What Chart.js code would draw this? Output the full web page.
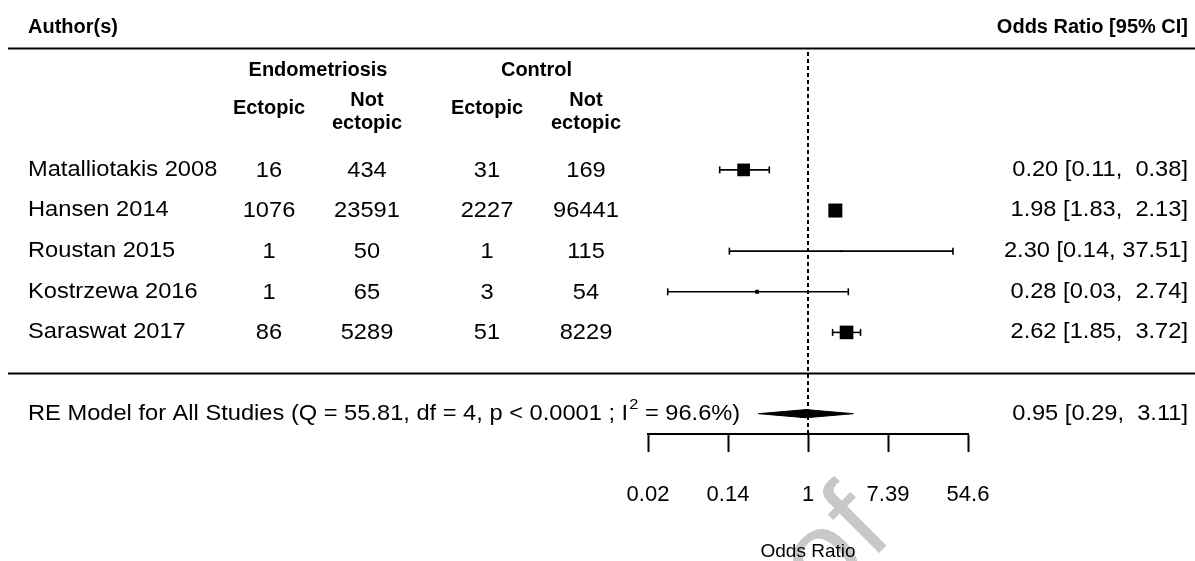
<!DOCTYPE html>
<html>
<head>
<meta charset="utf-8">
<script src="https://cdn.jsdelivr.net/npm/chart.js@4.4.0/dist/chart.umd.min.js"></script>
<style>
  html, body { margin: 0; padding: 0; background: #fff; }
  #wrap { width: 1195px; height: 561px; }
</style>
</head>
<body>
<div id="wrap"><canvas id="forest" width="1195" height="561"></canvas></div>
<script>
// ==========================
// Data
// ==========================
const studies = ['Matalliotakis 2008', 'Hansen 2014', 'Roustan 2015', 'Kostrzewa 2016', 'Saraswat 2017'];
const endoEctopic = [16, 1076, 1, 1, 86];
const endoNotEctopic = [434, 23591, 50, 65, 5289];
const ctrlEctopic = [31, 2227, 1, 3, 51];
const ctrlNotEctopic = [169, 96441, 115, 54, 8229];
const oddsRatio = [0.20, 1.98, 2.30, 0.28, 2.62];
const ciLower = [0.11, 1.83, 0.14, 0.03, 1.85];
const ciUpper = [0.38, 2.13, 37.51, 2.74, 3.72];
const weights = [24.4, 26.1, 10.7, 13.2, 25.6];   // RE weights (%), estimated from square sizes
const summaryOR = 0.95;
const summaryLower = 0.29;
const summaryUpper = 3.11;
const summaryLabel = ['RE Model for All Studies (Q = 55.81, df = 4, p < 0.0001 ; I', '2', ' = 96.6%)'];
const tickLogOdds = [-4, -2, 0, 2, 4];
const tickLabels = ['0.02', '0.14', '1', '7.39', '54.6'];

// ==========================
// Layout helpers
// ==========================
const FONT = "'Liberation Sans', Arial, sans-serif";
const k = studies.length;
const rows = studies.map((s, i) => k - i);      // 5 .. 1
const summaryRow = -1;
const colAuthorX = 28;
const colCenters = [269, 367, 487, 586];
const colRightX = 1188;
const stretch = 1.1;

const wMin = Math.min(...weights), wMax = Math.max(...weights);
const squareSide = weights.map(w => 2 + (w - wMin) / (wMax - wMin) * 12);

function fmtCI(lo, hi, est) {
    const loW = Math.max(...ciLower.concat(summaryLower).map(v => v.toFixed(2).length));
    const hiW = Math.max(...ciUpper.concat(summaryUpper).map(v => v.toFixed(2).length));
    return `${est.toFixed(2)} [${lo.toFixed(2).padStart(loW)}, ${hi.toFixed(2).padStart(hiW)}]`;
}

function put(ctx, text, x, y, align, font, sx) {
    ctx.save();
    ctx.font = font;
    ctx.fillStyle = '#000';
    ctx.textAlign = align;
    ctx.textBaseline = 'middle';
    ctx.translate(x, y);
    ctx.scale(sx, 1);
    ctx.fillText(text, 0, 0);
    ctx.restore();
}

// ==========================
// Table text, rules, watermark
// ==========================
const tablePlugin = {
    id: 'forestTable',
    beforeDraw(chart) {
        // faint watermark behind everything
        const ctx = chart.ctx;
        ctx.save();
        ctx.fillStyle = '#c8c8c8';
        ctx.font = `120px ${FONT}`;
        ctx.textAlign = 'right';
        ctx.textBaseline = 'alphabetic';
        ctx.translate(895, 537);
        ctx.rotate(-Math.PI / 4);
        ctx.fillText('Proof', 0, 0);
        ctx.restore();
    },
    beforeDatasetsDraw(chart) {
        const ctx = chart.ctx;
        const ys = chart.scales.y;
        ctx.save();
        ctx.strokeStyle = '#000';
        ctx.lineWidth = 2;
        [8, 0].forEach(r => {
            const py = Math.round(ys.getPixelForValue(r)) + 0.5;
            ctx.beginPath();
            ctx.moveTo(8, py);
            ctx.lineTo(chart.width, py);
            ctx.stroke();
        });
        ctx.restore();
    },
    afterDraw(chart) {
        const ctx = chart.ctx;
        const ys = chart.scales.y;
        const bold = `bold 20px ${FONT}`;
        const reg = `21.5px ${FONT}`;

        // headers
        put(ctx, 'Author(s)', colAuthorX, ys.getPixelForValue(8.5), 'left', bold, 1);
        put(ctx, 'Odds Ratio [95% CI]', colRightX, ys.getPixelForValue(8.5), 'right', bold, 1);
        put(ctx, 'Endometriosis', (colCenters[0] + colCenters[1]) / 2, ys.getPixelForValue(7.45), 'center', bold, 1);
        put(ctx, 'Control', (colCenters[2] + colCenters[3]) / 2, ys.getPixelForValue(7.45), 'center', bold, 1);
        [0, 2].forEach(c => {
            put(ctx, 'Ectopic', colCenters[c], ys.getPixelForValue(6.5), 'center', bold, 1);
            put(ctx, 'Not', colCenters[c + 1], ys.getPixelForValue(6.72), 'center', bold, 1);
            put(ctx, 'ectopic', colCenters[c + 1], ys.getPixelForValue(6.13), 'center', bold, 1);
        });

        // study rows
        studies.forEach((s, i) => {
            const py = ys.getPixelForValue(rows[i]);
            put(ctx, s, colAuthorX, py, 'left', reg, stretch);
            [endoEctopic, endoNotEctopic, ctrlEctopic, ctrlNotEctopic].forEach((arr, c) => {
                put(ctx, String(arr[i]), colCenters[c], py + 1, 'center', reg, stretch);
            });
            put(ctx, fmtCI(ciLower[i], ciUpper[i], oddsRatio[i]), colRightX, py, 'right', reg, stretch);
        });

        // summary row with superscript
        const sy = ys.getPixelForValue(summaryRow);
        ctx.save();
        ctx.font = reg;
        const w1 = ctx.measureText(summaryLabel[0]).width * stretch;
        ctx.font = `15px ${FONT}`;
        const w2 = ctx.measureText(summaryLabel[1]).width * stretch;
        ctx.restore();
        put(ctx, summaryLabel[0], colAuthorX, sy, 'left', reg, stretch);
        put(ctx, summaryLabel[1], colAuthorX + w1 + 1, sy - 9, 'left', `15px ${FONT}`, stretch);
        put(ctx, summaryLabel[2], colAuthorX + w1 + w2 + 1, sy, 'left', reg, stretch);
        put(ctx, fmtCI(summaryLower, summaryUpper, summaryOR), colRightX, sy, 'right', reg, stretch);
    }
};

// ==========================
// Datasets
// ==========================
const refLine = {
    type: 'line',
    data: [{ x: 1, y: -1.5 }, { x: 1, y: 7.95 }],
    borderColor: '#000', borderWidth: 2, borderDash: [4, 3],
    pointRadius: 0, order: 3, clip: false
};

const ciLines = studies.map((s, i) => ({
    type: 'line',
    data: [{ x: ciLower[i], y: rows[i] }, { x: ciUpper[i], y: rows[i] }],
    borderColor: '#000', borderWidth: 1.6,
    pointStyle: 'line', pointRotation: 90, pointRadius: 3.5,
    pointBorderWidth: 1.6, pointBorderColor: '#000', pointHoverRadius: 3.5,
    order: 2, clip: false
}));

const squares = {
    type: 'scatter',
    data: oddsRatio.map((v, i) => ({ x: v, y: rows[i] })),
    pointStyle: 'rect',
    pointRadius: squareSide.map(s => s / Math.SQRT2),
    pointHoverRadius: squareSide.map(s => s / Math.SQRT2),
    pointBackgroundColor: '#000', backgroundColor: '#000',
    pointBorderWidth: 0, borderWidth: 0,
    order: 0, clip: false
};

const diamondHalf = 0.1;
const diamond = {
    type: 'line',
    data: [
        { x: summaryLower, y: summaryRow },
        { x: summaryOR, y: summaryRow + diamondHalf },
        { x: summaryUpper, y: summaryRow },
        { x: summaryOR, y: summaryRow - diamondHalf },
        { x: summaryLower, y: summaryRow }
    ],
    fill: 'shape', backgroundColor: '#000', borderColor: '#000', borderWidth: 1,
    pointRadius: 0, tension: 0, order: 1, clip: false
};

// ==========================
// Chart
// ==========================
new Chart(document.getElementById('forest').getContext('2d'), {
    type: 'scatter',
    data: { datasets: [refLine, ...ciLines, squares, diamond] },
    options: {
        responsive: false,
        animation: false,
        devicePixelRatio: 1,
        events: [],
        layout: { padding: { left: 648, right: 227, top: 48, bottom: 0 } },
        plugins: { legend: { display: false }, tooltip: { enabled: false } },
        scales: {
            x: {
                type: 'logarithmic',
                position: 'bottom',
                min: Math.exp(tickLogOdds[0]),
                max: Math.exp(tickLogOdds[tickLogOdds.length - 1]),
                afterBuildTicks: s => { s.ticks = tickLogOdds.map(v => ({ value: Math.exp(v) })); },
                afterFit: s => { s.height = 127; },
                ticks: {
                    callback: (v, i) => tickLabels[i],
                    font: { family: FONT, size: 22 }, color: '#000',
                    padding: 30, maxRotation: 0, autoSkip: false
                },
                grid: { drawOnChartArea: false, drawTicks: true, tickLength: 18, tickWidth: 2, tickColor: '#000', color: '#000' },
                border: { display: true, color: '#000', width: 2 },
                title: {
                    display: true, text: 'Odds Ratio', color: '#000',
                    font: { family: FONT, size: 19, lineHeight: 1 }, padding: { top: 0, bottom: 0 }
                }
            },
            y: { type: 'linear', min: -1.5, max: 8, display: false }
        }
    },
    plugins: [tablePlugin]
});
</script>
</body>
</html>
